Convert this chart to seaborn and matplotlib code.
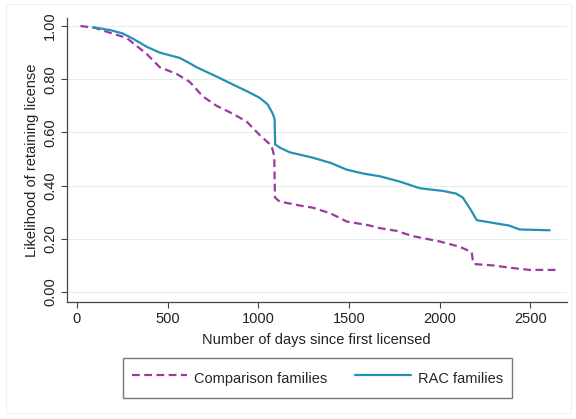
import numpy as np
import pandas as pd
import matplotlib
matplotlib.use("Agg")
import matplotlib.pyplot as plt
import seaborn as sns

# values
comp_days = [20, 100, 180, 275, 330, 385, 457, 550, 622, 695, 770, 860, 937,
             1008, 1073, 1088, 1092, 1118, 1229, 1300, 1400, 1487, 1614, 1670,
             1760, 1851, 2000, 2110, 2176, 2182, 2190, 2292, 2402, 2496, 2645]
comp_vals = [1.0, 0.993, 0.975, 0.955, 0.925, 0.895, 0.845, 0.82, 0.79, 0.735, 0.70,
             0.67, 0.64, 0.59, 0.55, 0.51, 0.355, 0.34, 0.325, 0.317, 0.295,
             0.265, 0.25, 0.24, 0.23, 0.21, 0.19, 0.17, 0.15, 0.12, 0.105,
             0.10, 0.09, 0.083, 0.083]

rac_days = [90, 182, 253, 310, 385, 457, 567, 622, 660, 770, 860, 937, 1008,
            1052, 1080, 1090, 1093, 1118, 1174, 1300, 1400, 1487, 1580, 1670,
            1780, 1890, 2017, 2090, 2127, 2170, 2204, 2292, 2380, 2441, 2606]
rac_vals = [0.995, 0.985, 0.972, 0.952, 0.922, 0.90, 0.88, 0.86, 0.845, 0.81, 0.78,
            0.755, 0.73, 0.705, 0.67, 0.65, 0.555, 0.543, 0.525, 0.505, 0.485,
            0.46, 0.445, 0.435, 0.415, 0.39, 0.38, 0.37, 0.355, 0.31, 0.27,
            0.26, 0.25, 0.235, 0.232]

groups = ["Comparison families", "RAC families"]
colors = ["#9b3a9f", "#2590b5"]

df = pd.concat([
    pd.DataFrame({"days": comp_days, "value": comp_vals, "group": groups[0]}),
    pd.DataFrame({"days": rac_days, "value": rac_vals, "group": groups[1]}),
])

sns.set_theme(style="white")
plt.rcParams["font.family"] = ["Liberation Sans", "DejaVu Sans"]

fig = plt.figure(figsize=(5.76, 4.19), dpi=100)
ax = fig.add_axes([0.116, 0.279, 0.868, 0.678])

sns.lineplot(data=df, x="days", y="value", hue="group", style="group",
             palette=colors, dashes={groups[0]: (3.5, 2), groups[1]: ""},
             linewidth=1.6, estimator=None, sort=False, ax=ax)

ax.set_xlim(-55, 2700)
ax.set_ylim(-0.038, 1.03)
ax.set_xticks([0, 500, 1000, 1500, 2000, 2500])
ax.set_yticks([0, 0.2, 0.4, 0.6, 0.8, 1.0])
ax.set_yticklabels(["0.00", "0.20", "0.40", "0.60", "0.80", "1.00"],
                   rotation=90, va="center")
ax.tick_params(axis="both", length=4, width=0.8, color="#444444",
               labelsize=10.5, labelcolor="#222222", direction="out",
               bottom=True, left=True, pad=3)
ax.yaxis.grid(True, color="#e6eef1", linewidth=0.8)
ax.xaxis.grid(False)
for side in ["top", "right"]:
    ax.spines[side].set_visible(False)
for side in ["left", "bottom"]:
    ax.spines[side].set_color("#444444")
    ax.spines[side].set_linewidth(0.9)

ax.set_xlabel("Number of days since first licensed", fontsize=10.5,
              color="#222222", labelpad=5)
ax.set_ylabel("Likelihood of retaining license", fontsize=10.5,
              color="#222222", labelpad=3)

ax.get_legend().remove()
handles, labels = ax.get_legend_handles_labels()
leg = fig.legend(handles, labels, loc="center", bbox_to_anchor=(0.551, 0.097),
                 ncol=2, frameon=True, fancybox=False, fontsize=10.5,
                 handlelength=3.8, handleheight=2.0, columnspacing=1.9,
                 borderpad=0.6, handletextpad=0.5, borderaxespad=0)
leg.get_frame().set_edgecolor("#555555")
leg.get_frame().set_linewidth(1.0)

# faint outer graph region frame
fig.add_artist(plt.Rectangle((0.011, 0.015), 0.98, 0.975, transform=fig.transFigure,
                             fill=False, edgecolor="#eef2f4", linewidth=0.8))

fig.savefig("out.png", dpi=100)
